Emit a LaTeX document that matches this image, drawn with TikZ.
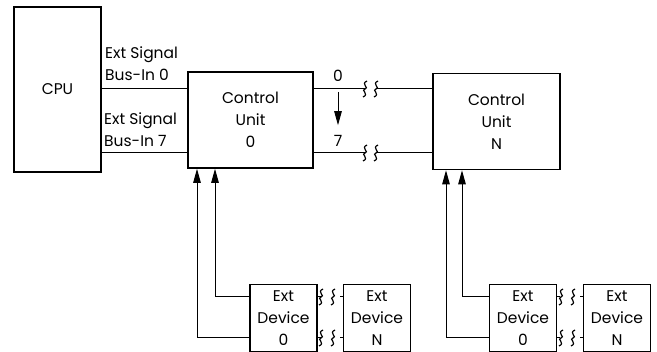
\documentclass[tikz,border=0pt]{standalone}
\usepackage{fontspec}
\setmainfont{Poppins}
\usetikzlibrary{arrows.meta}

\begin{document}
\begin{tikzpicture}[
    x=1pt, y=-1pt,
    font=\fontsize{15.5}{22}\selectfont,
    box/.style={draw, line width=1.6pt, align=center, inner sep=0pt},
    unit/.style={box, minimum width=125pt, minimum height=96pt},
    device/.style={box, minimum width=67pt, minimum height=67pt},
    label/.style={align=left, inner sep=0pt},
    line/.style={line width=1pt},
    arr/.style={line, -{Triangle[length=14pt, width=7.5pt]}}
]
\useasboundingbox (0,0) rectangle (657,352);

% Processor and control units
\node[box, minimum width=87pt, minimum height=165pt] (cpu) at (57.5, 89.5) {CPU};
\node[unit] (cu0) at (250.5, 120) {Control\\Unit\\0};
\node[unit, minimum width=127pt] (cuN) at (496.5, 121.5) {Control\\Unit\\N};

% External devices
\node[device] (dev0a) at (283.5, 318) {Ext\\Device\\0};
\node[device] (devNa) at (377, 318) {Ext\\Device\\N};
\node[device] (dev0b) at (523, 318) {Ext\\Device\\0};
\node[device] (devNb) at (617, 318) {Ext\\Device\\N};

% Bus labels
\node[label, anchor=south west] (sig0) at (105, 81) {Ext Signal\\Bus-In 0};
\node[label, anchor=south west] (sig7) at (104, 147) {Ext Signal\\Bus-In 7};
\node[inner sep=0pt] (lab0) at (338, 76) {0};
\node[inner sep=0pt] (lab7) at (338, 141) {7};

% Break marks
\newcommand{\brk}[2]{%
  \draw[line width=1.2pt] (#1+2,#2-8) .. controls (#1-5,#2-5) and (#1+5,#2-1) .. (#1,#2)
        .. controls (#1-5,#2+1) and (#1+5,#2+5) .. (#1-2,#2+8);}
\coordinate (b0) at (365, 89);
\coordinate (b7) at (365, 153);
\coordinate (c0) at (376, 89);
\coordinate (c7) at (376, 153);

% Edges
\draw[line] (cpu.east |- b0) -- (cu0.west |- b0);
\draw[line] (cpu.east |- b7) -- (cu0.west |- b7);
\draw[line] (cu0.east |- b0) -- (b0);
\draw[line] (c0) -- (cuN.west |- c0);
\draw[line] (cu0.east |- b7) -- (b7);
\draw[line] (c7) -- (cuN.west |- c7);
\brk{365}{89} \brk{376}{89}
\brk{365}{153} \brk{376}{153}
\draw[arr] ([yshift=-10pt]lab0.south) -- ([yshift=10pt]lab7.north);

% Device lines
\draw[arr] ([yshift=21pt]dev0a.west) -| ([xshift=-35.5pt]cu0.south);
\draw[arr] ([yshift=-20pt]dev0a.west) -| ([xshift=-53.5pt]cu0.south);
\draw[arr] ([yshift=21pt]dev0b.west) -| ([xshift=-34.5pt]cuN.south);
\draw[arr] ([yshift=-20pt]dev0b.west) -| ([xshift=-50.5pt]cuN.south);

% Device break marks
\draw[line] ([yshift=21pt]dev0a.east) -- ++(3,0);
\draw[line] ([yshift=21pt]devNa.west) -- ++(-3,0);
\draw[line] ([yshift=-20pt]dev0a.east) -- ++(3,0);
\draw[line] ([yshift=-20pt]devNa.west) -- ++(-3,0);
\brk{321}{297} \brk{333}{297}
\brk{321}{338} \brk{333}{338}
\draw[line] ([yshift=21pt]dev0b.east) -- ++(3,0);
\draw[line] ([yshift=21pt]devNb.west) -- ++(-3,0);
\draw[line] ([yshift=-20pt]dev0b.east) -- ++(3,0);
\draw[line] ([yshift=-20pt]devNb.west) -- ++(-3,0);
\brk{561}{297} \brk{573}{297}
\brk{561}{338} \brk{573}{338}
\end{tikzpicture}
\end{document}
